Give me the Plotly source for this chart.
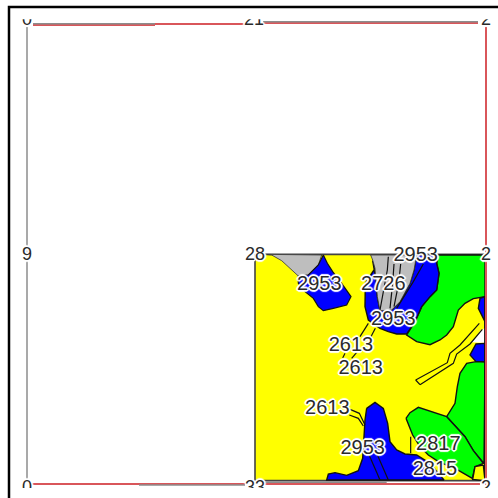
import plotly.graph_objects as go

# map coordinates (one unit = a third of a pixel, origin at the map block's corner region)
base_square = [(45,43),(735,43),(735,722),(45,722)]
gray_nw = [(75,43),(150,43),(245,45),(235,75),(205,105),(175,108),(150,85),(125,62),(95,45)]
blue_nw = [(250,45),(262,70),(278,95),(305,130),(333,170),(320,195),(280,205),(250,212),(235,200),(220,175),(195,155),(175,130),(175,108),(205,105),(235,75)]
gray_n = [(392,45),(530,45),(522,90),(510,130),(480,185),(455,210),(420,212),(412,170),(408,120),(405,85),(398,60)]
blue_n = [(398,62),(405,85),(392,105),(376,130),(375,200),(385,240),(420,265),(445,275),(470,282),(500,282),(525,245),(545,200),(570,170),(590,150),(597,100),(590,70),(592,45),(530,45),(522,90),(510,130),(480,185),(455,210),(420,212),(412,170),(408,120)]
green_n = [(592,45),(735,45),(735,170),(700,176),(675,190),(655,210),(640,260),(620,285),(600,300),(570,314),(530,305),(500,285),(525,245),(545,200),(570,170),(590,150),(597,100),(590,70)]
blue_e1 = [(735,170),(720,175),(715,205),(725,225),(735,245)]
white_notch = [(735,265),(722,272),(712,288),(695,306),(735,308)]
blue_e2 = [(735,310),(708,312),(690,345),(708,365),(735,366)]
green_e = [(735,366),(708,365),(680,370),(660,400),(652,440),(645,490),(620,530),(675,590),(700,632),(732,670)]
green_s = [(498,535),(510,518),(535,502),(575,515),(620,530),(675,590),(700,632),(730,670),(705,680),(697,715),(670,700),(640,682),(600,668),(565,645),(540,620),(518,585)]
yellow_se = [(730,675),(705,680),(698,718),(735,722)]
blue_s = [(380,505),(405,487),(430,505),(443,550),(450,605),(470,630),(495,642),(530,645),(570,670),(595,700),(612,720),(260,720),(265,702),(285,698),(320,706),(355,692),(368,655),(372,590),(375,540)]
road_a = [(527,420),(622,368),(630,340),(660,315),(718,250)]
road_b = [(540,434),(640,370),(650,342),(690,312),(727,268)]
road_cap = [(527,420),(540,434)]
contour_a = [(385,250),(360,290)]
contour_b = [(406,265),(392,292)]
contour_c = [(315,340),(308,354)]
contour_d = [(352,335),(335,355)]
contour_e = [(330,508),(358,520),(375,555)]
contour_f = [(328,525),(355,535),(370,558)]
contour_g = [(385,640),(420,720)]
contour_h = [(410,640),(445,720)]
contour_i = [(550,72),(520,125),(470,205)]
contour_j = [(462,72),(458,130),(450,205)]
contour_k = [(482,72),(476,130),(462,200)]
contour_l = [(445,50),(442,90),(420,210)]
contour_m = [(512,590),(512,640)]

label_texts = ["2953","2953","2726","2953","2613","2613","2613","2953","2817","2815"]
label_x = [238,527,430,460,333,362,262,368,595,585]
label_y = [136,49,136,240,319,386,506,626,616,689]

corner_texts = ["0","21","2","9","28","2","0","33","2"]
corner_x = [-639,42,738,-639,45,738,-639,45,738]
corner_y = [-660,-660,-660,45,45,45,744,744,744]

mask_top = [(-720,-720),(774,-720),(774,-662),(-720,-662)]
mask_bottom = [(-720,744),(774,744),(774,774),(-720,774)]

red_lines = [[(-621,-645),(-255,-645)],[(-255,-648),(15,-648)],[(69,-651),(714,-651)],
             [(738,-640),(738,735)],[(-630,732),(15,732)],[(75,732),(720,732)]]
gray_lines = [[(-621,-649),(-255,-649)],[(69,-655),(714,-655)],[(-639,-639),(-639,720)],
              [(-303,735),(15,735)],[(75,727),(440,727)]]
frame = [(-693,774),(-693,-699),(774,-699)]

RED = "#d9565a"
HALO = ("1px 1px 0 #fff, -1px -1px 0 #fff, 1px -1px 0 #fff, -1px 1px 0 #fff, "
        "2px 0 1px #fff, -2px 0 1px #fff, 0 2px 1px #fff, 0 -2px 1px #fff")
fig = go.Figure()

def poly(pts, fill, line="#111", width=1.4):
    fig.add_trace(go.Scatter(x=[p[0] for p in pts]+[pts[0][0]], y=[p[1] for p in pts]+[pts[0][1]],
                             mode="lines", fill="toself", fillcolor=fill,
                             line=dict(color=line, width=width), hoverinfo="skip"))

def path(pts, color="#111", width=1.2):
    fig.add_trace(go.Scatter(x=[p[0] for p in pts], y=[p[1] for p in pts], mode="lines",
                             line=dict(color=color, width=width), hoverinfo="skip"))

poly(base_square, "#ffff00", "#444", 1.6)
poly(gray_nw, "#bebebe", "#333", 0.8)
poly(blue_nw, "#0000ff", "#111", 1.2)
poly(green_n, "#00ff00")
poly(blue_n, "#0000ff")
poly(gray_n, "#bebebe", "#333", 0.8)
poly(blue_e1, "#0000ff")
poly(white_notch, "#ffffff", "#ffffff", 0.5)
poly(blue_e2, "#0000ff")
poly(green_e, "#00ff00")
poly(green_s, "#00ff00")
poly(yellow_se, "#ffff00")
poly(blue_s, "#0000ff")
for line in [road_a, road_b, road_cap, contour_a, contour_b, contour_c, contour_d, contour_e,
             contour_f, contour_g, contour_h, contour_i, contour_j, contour_k, contour_l, contour_m]:
    path(line)
path([(735,170),(735,722)], "#111", 1.8)

for l in red_lines:
    path(l, RED, 2)
for l in gray_lines:
    path(l, "#8c8c8c", 1.5)

fig.add_trace(go.Scatter(x=corner_x, y=corner_y, text=corner_texts, mode="text",
                         textposition="middle center", hoverinfo="skip",
                         textfont=dict(family="Liberation Sans", size=18, color="#2a2a2a", shadow=HALO)))
poly(mask_top, "#ffffff", "#ffffff", 0)
poly(mask_bottom, "#ffffff", "#ffffff", 0)
fig.add_trace(go.Scatter(x=label_x, y=label_y, text=label_texts, mode="text",
                         textposition="middle center", hoverinfo="skip",
                         textfont=dict(family="Liberation Sans", size=20, color="#2a2a2a", shadow=HALO)))
path(frame, "#000000", 2.5)

fig.update_layout(width=498, height=498, margin=dict(l=0, r=0, t=0, b=0), showlegend=False,
                  paper_bgcolor="#ffffff", plot_bgcolor="#ffffff",
                  xaxis=dict(range=[-720,774], visible=False, fixedrange=True),
                  yaxis=dict(range=[774,-720], visible=False, fixedrange=True))
fig.write_html("out.html", config={"displayModeBar": False},
               post_script="document.body.style.margin='0';document.body.style.overflow='hidden';")
